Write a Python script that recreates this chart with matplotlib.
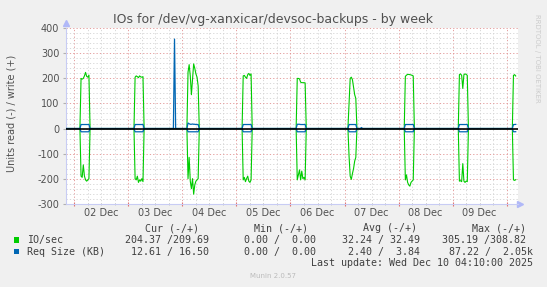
import numpy as np
import pandas as pd
import matplotlib
matplotlib.use('Agg')
import matplotlib.pyplot as plt
import matplotlib.dates as mdates
from matplotlib.patches import Rectangle

# Дані: нічні сплески (30-хвилинні точки), решта часу нулі
burst_start = ['2025-12-02 03:00', '2025-12-03 03:00', '2025-12-04 02:30',
               '2025-12-05 03:00', '2025-12-06 03:00', '2025-12-07 02:00',
               '2025-12-08 03:00', '2025-12-09 03:00', '2025-12-10 03:00']
io_write = [[200, 197, 200, 210, 224, 208, 205, 213],
            [205, 210, 207, 203, 210, 206, 205, 207],
            [225, 255, 210, 135, 195, 258, 240, 218, 205, 170],
            [210, 212, 205, 200, 215, 220, 212, 218],
            [200, 200, 198, 185, 183, 183, 183, 182],
            [100, 200, 205, 195, 165, 135, 120],
            [208, 213, 216, 216, 215, 214, 212, 210],
            [215, 218, 212, 160, 215, 218, 216, 212],
            [212, 215, 209.69]]
io_read = [[190, 195, 145, 190, 205, 210, 205, 200],
           [200, 205, 190, 215, 205, 210, 200, 212],
           [200, 115, 210, 240, 200, 262, 225, 210, 205, 200],
           [205, 195, 212, 200, 190, 210, 215, 205],
           [205, 185, 165, 205, 170, 200, 195, 205],
           [110, 190, 203, 180, 160, 130, 115],
           [205, 185, 215, 225, 230, 215, 210, 205],
           [210, 208, 212, 140, 210, 215, 210, 212],
           [205, 207, 204.37]]
req_write = [[16, 16, 16, 16, 16, 16, 16, 16],
             [16, 16, 16, 16, 16, 16, 16, 16],
             [22, 19, 17, 17, 18, 17, 17, 16, 16, 16],
             [16, 16, 16, 16, 16, 16, 16, 16],
             [17, 17, 17, 16, 16, 16, 16, 16],
             [16, 16, 16, 16, 16, 16, 16],
             [16, 16, 16, 16, 16, 16, 16, 16],
             [16, 16, 16, 16, 16, 16, 16, 16],
             [16, 16, 16.50]]
req_read = [[13, 13, 13, 13, 13, 13, 13, 13],
            [13, 13, 13, 13, 13, 13, 13, 13],
            [13, 13, 13, 13, 13, 13, 13, 13, 13, 13],
            [13, 13, 13, 13, 13, 13, 13, 13],
            [13, 13, 13, 13, 13, 13, 13, 13],
            [13, 13, 13, 13, 13, 13, 13],
            [13, 13, 13, 13, 13, 13, 13, 13],
            [13, 13, 13, 13, 13, 13, 13, 13],
            [13, 13, 12.61]]
spike_time = ['2025-12-03 20:30', '2025-12-07 07:30']
spike_req_write = [357, 4]

day_labels = ['02 Dec', '03 Dec', '04 Dec', '05 Dec', '06 Dec', '07 Dec', '08 Dec', '09 Dec']
day_noon = ['2025-12-02 12:00', '2025-12-03 12:00', '2025-12-04 12:00', '2025-12-05 12:00',
            '2025-12-06 12:00', '2025-12-07 12:00', '2025-12-08 12:00', '2025-12-09 12:00']

legend_names = ['IO/sec', 'Req Size (KB)']
legend_cur = ['204.37 /209.69', ' 12.61 / 16.50']
legend_min = ['  0.00 /  0.00', '  0.00 /  0.00']
legend_avg = [' 32.24 / 32.49', '  2.40 /  3.84']
legend_max = ['305.19 /308.82', ' 87.22 /  2.05k']

# Часова шкала
idx = pd.date_range('2025-12-01 20:30', '2025-12-10 04:00', freq='30min')
s_iow = pd.Series(0.0, index=idx)
s_ior = pd.Series(0.0, index=idx)
s_rqw = pd.Series(0.0, index=idx)
s_rqr = pd.Series(0.0, index=idx)
for i, st in enumerate(burst_start):
    t = pd.date_range(st, periods=len(io_write[i]), freq='30min')
    s_iow.loc[t] = io_write[i]
    s_ior.loc[t] = io_read[i]
    s_rqw.loc[t] = req_write[i]
    s_rqr.loc[t] = req_read[i]
for t, v in zip(spike_time, spike_req_write):
    s_rqw.loc[pd.Timestamp(t)] = v

W, H = 547, 287
plt.rcParams['axes.unicode_minus'] = False
plt.rcParams['font.family'] = ['DejaVu Sans']
fig = plt.figure(figsize=(W / 100, H / 100), dpi=100, facecolor='#F0F0F0')

def px(x, y):
    return x / W, 1 - y / H

ax = fig.add_axes([66.3 / W, 1 - 203.7 / H, 452 / W, 175.4 / H])
ax.set_facecolor('white')

green = '#00CC00'
blue = '#0066B3'
ax.plot(s_iow.index, s_iow.values, color=green, lw=0.8, zorder=3)
ax.plot(s_ior.index, -s_ior.values, color=green, lw=0.8, zorder=3)
ax.plot(s_rqw.index, s_rqw.values, color=blue, lw=0.9, zorder=4)
ax.plot(s_rqr.index, -s_rqr.values, color=blue, lw=0.9, zorder=4)
ax.axhline(0, color='black', lw=1.2, zorder=5)

ax.set_ylim(-300, 400)
ax.set_xlim(pd.Timestamp('2025-12-01 20:27'), pd.Timestamp('2025-12-10 05:09'))

ax.set_yticks(range(-300, 401, 100))
ax.set_yticks(range(-300, 401, 20), minor=True)
ax.xaxis.set_major_locator(mdates.DayLocator())
ax.xaxis.set_minor_locator(mdates.HourLocator(byhour=[6, 12, 18]))
ax.xaxis.set_major_formatter(plt.NullFormatter())

ax.grid(which='minor', color='#D2D2D2', lw=0.6, linestyle=(0, (1.5, 2.5)), zorder=1)
ax.grid(which='major', color='#E09090', lw=0.6, linestyle=(0, (1.5, 2.5)), zorder=2)

ax.tick_params(axis='y', which='major', length=2, color='#B0B0B0', pad=3,
               labelsize=7, labelcolor='#505050')
ax.tick_params(axis='y', which='minor', length=0)
ax.tick_params(axis='x', which='major', length=3, color='#E07070', direction='inout')
ax.tick_params(axis='x', which='minor', length=2, color='#C0C0C0', direction='inout')

for sp in ['top', 'right']:
    ax.spines[sp].set_visible(False)
for sp in ['left', 'bottom']:
    ax.spines[sp].set_color('#C8CCF4')
    ax.spines[sp].set_linewidth(0.8)

# стрілки осей
ax.plot([1.004], [0], marker='>', color='#B0B8F8', ms=4, transform=ax.transAxes, clip_on=False)
ax.plot([0], [1.03], marker='^', color='#B0B8F8', ms=4, transform=ax.transAxes, clip_on=False)

# підписи дат під віссю, по центру дня
lab_y = -(213.3 - 203.7) / 175.4
for lab, t in zip(day_labels, day_noon):
    ax.text(pd.Timestamp(t), lab_y, lab, transform=ax.get_xaxis_transform(),
            ha='center', va='center', fontsize=7, color='#505050')

fig.text(*px(273.4, 20), 'IOs for /dev/vg-xanxicar/devsoc-backups - by week',
         ha='center', va='center', fontsize=9, color='#505050')
fig.text(*px(11.7, 113), 'Units read (-) / write (+)', rotation=90,
         ha='center', va='center', fontsize=7, color='#505050')
fig.text(*px(537, 58), 'RRDTOOL / TOBI OETIKER', rotation=270,
         ha='center', va='center', fontsize=5, color='#CCCCCC')

mono = dict(family='DejaVu Sans Mono', fontsize=7.2, color='#404040', va='center')
for x, h in zip([199.3, 308.3, 416.7, 526], ['Cur (-/+)', 'Min (-/+)', 'Avg (-/+)', 'Max (-/+)']):
    fig.text(*px(x, 228.3), h, ha='right', **mono)

colors = [green, blue]
rows_y = [240, 251.7]
for i in range(2):
    y = rows_y[i]
    fig.patches.append(Rectangle(px(14, y + 2.7), 5.3 / W, 5.4 / H, transform=fig.transFigure,
                                 facecolor=colors[i], edgecolor='none'))
    fig.text(*px(26.7, y), legend_names[i], ha='left', **mono)
    fig.text(*px(209.4, y), legend_cur[i], ha='right', **mono)
    fig.text(*px(315.7, y), legend_min[i], ha='right', **mono)
    fig.text(*px(420.5, y), legend_avg[i], ha='right', **mono)
    xm = 526.5 if not legend_max[i].endswith('k') else 532.7
    fig.text(*px(xm, y), legend_max[i], ha='right', **mono)

fig.text(*px(532.7, 263.3), 'Last update: Wed Dec 10 04:10:00 2025', ha='right', **mono)
fig.text(*px(273, 276), 'Munin 2.0.57', ha='center', va='center', fontsize=5, color='#BBBBBB')

fig.savefig('out.png', dpi=100, facecolor=fig.get_facecolor())
